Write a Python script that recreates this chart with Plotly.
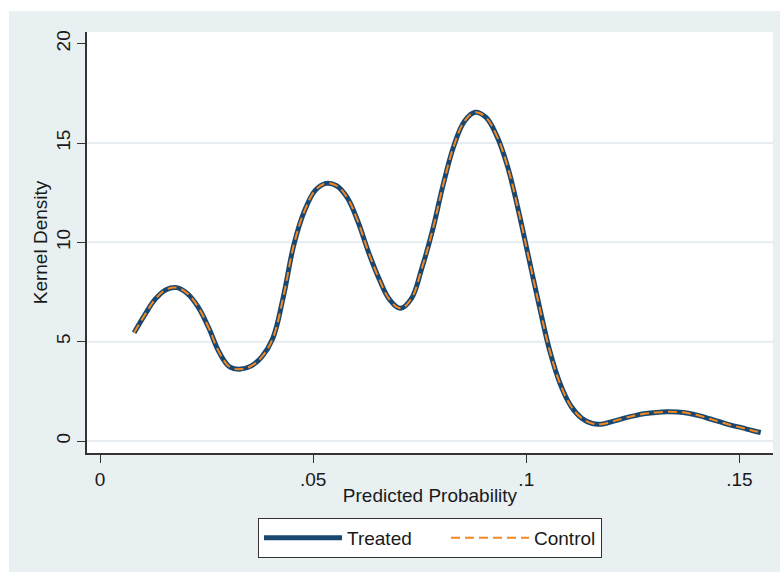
import plotly.graph_objects as go

# ---- data ----
prob = [0.0080, 0.0105, 0.0130, 0.0155, 0.0180, 0.0205, 0.0230, 0.0255, 0.0280,
        0.0305, 0.0330, 0.0355, 0.0380, 0.0405, 0.0430, 0.0455, 0.0480, 0.0505,
        0.0530, 0.0555, 0.0580, 0.0605, 0.0630, 0.0655, 0.0680, 0.0705, 0.0730,
        0.0755, 0.0780, 0.0805, 0.0830, 0.0855, 0.0880, 0.0905, 0.0930, 0.0955,
        0.0980, 0.1005, 0.1030, 0.1055, 0.1080, 0.1105, 0.1130, 0.1155, 0.1180,
        0.1205, 0.1230, 0.1255, 0.1280, 0.1305, 0.1330, 0.1355, 0.1380, 0.1405,
        0.1430, 0.1455, 0.1480, 0.1505, 0.1530, 0.1550]
treated_density = [5.45, 6.35, 7.15, 7.62, 7.72, 7.42, 6.75, 5.70, 4.45,
                   3.72, 3.62, 3.78, 4.25, 5.15, 7.25, 9.90, 11.60, 12.62,
                   12.97, 12.85, 12.25, 11.05, 9.50, 8.15, 7.10, 6.68, 7.15,
                   8.70, 10.60, 12.90, 14.85, 16.10, 16.55, 16.30, 15.40, 13.90,
                   11.75, 9.30, 6.85, 4.55, 2.85, 1.75, 1.15, 0.88, 0.86,
                   1.00, 1.15, 1.28, 1.38, 1.44, 1.47, 1.46, 1.40, 1.28,
                   1.12, 0.96, 0.80, 0.67, 0.53, 0.43]
control_density = list(treated_density)

x_ticks = [0, 0.05, 0.1, 0.15]
x_ticktext = ["0", ".05", ".1", ".15"]
y_ticks = [0, 5, 10, 15, 20]
y_ticktext = ["0", "5", "10", "15", "20"]

NAVY = "#1A476F"
ORANGE = "#F5891F"
BG = "#E8F0F2"
GRID = "#E6EEF1"
FONT = "Liberation Sans, Arial, sans-serif"
FS = 19
TXT = "#1a1a1a"

fig = go.Figure()
fig.add_trace(go.Scatter(x=prob, y=treated_density, name="Treated", mode="lines",
                         legendwidth=94,
                         line=dict(color=NAVY, width=5, shape="spline", smoothing=1.1)))
fig.add_trace(go.Scatter(x=prob, y=control_density, name="Control", mode="lines",
                         line=dict(color=ORANGE, width=2, dash="9px,5px",
                                   shape="spline", smoothing=1.1)))

W, H = 780, 572
ml, mr, mt, mb = 87, 7, 32, 119
pw, ph = W - ml - mr, H - mt - mb

def px_to_paper_x(px):
    return (px - ml) / pw

def px_to_paper_y(py):
    return (H - mb - py) / ph

shapes = []
# white strips outside the light background panel (top and left)
shapes.append(dict(type="rect", xref="paper", yref="paper", layer="above",
                   x0=px_to_paper_x(0), x1=px_to_paper_x(W),
                   y0=px_to_paper_y(11), y1=px_to_paper_y(0),
                   fillcolor="white", line=dict(width=0)))
shapes.append(dict(type="rect", xref="paper", yref="paper", layer="above",
                   x0=px_to_paper_x(0), x1=px_to_paper_x(9),
                   y0=px_to_paper_y(H), y1=px_to_paper_y(0),
                   fillcolor="white", line=dict(width=0)))
# grid lines (not at the top tick)
for v in y_ticks[:-1]:
    shapes.append(dict(type="line", xref="paper", yref="y", layer="below",
                       x0=0, x1=1, y0=v, y1=v,
                       line=dict(color=GRID, width=2)))

axis_common = dict(showgrid=False, zeroline=False, showline=True, linecolor="#333333",
                   linewidth=1.5, ticks="outside", ticklen=8, tickcolor="#333333",
                   tickwidth=1.2, tickfont=dict(family=FONT, size=FS, color=TXT))

fig.update_layout(
    width=W, height=H,
    margin=dict(l=ml, r=mr, t=mt, b=mb),
    paper_bgcolor=BG, plot_bgcolor="white",
    font=dict(family=FONT, size=FS, color=TXT),
    shapes=shapes,
    showlegend=True,
    legend=dict(orientation="h", x=0.5, xanchor="center",
                y=px_to_paper_y(518), yanchor="top",
                bgcolor="white", bordercolor="#333333", borderwidth=1,
                font=dict(family=FONT, size=FS, color=TXT), itemwidth=78,
                traceorder="normal"),
    xaxis=dict(range=[-0.00305, 0.15788], tickvals=x_ticks, ticktext=x_ticktext,
               title=dict(text="Predicted Probability", standoff=0,
                          font=dict(family=FONT, size=FS, color=TXT)),
               **axis_common),
    yaxis=dict(range=[-0.6036, 20.589], tickvals=y_ticks, ticktext=y_ticktext,
               tickangle=-90,
               title=dict(text="Kernel Density", standoff=0,
                          font=dict(family=FONT, size=FS, color=TXT)),
               **axis_common),
)

fig.write_html("out.html")
